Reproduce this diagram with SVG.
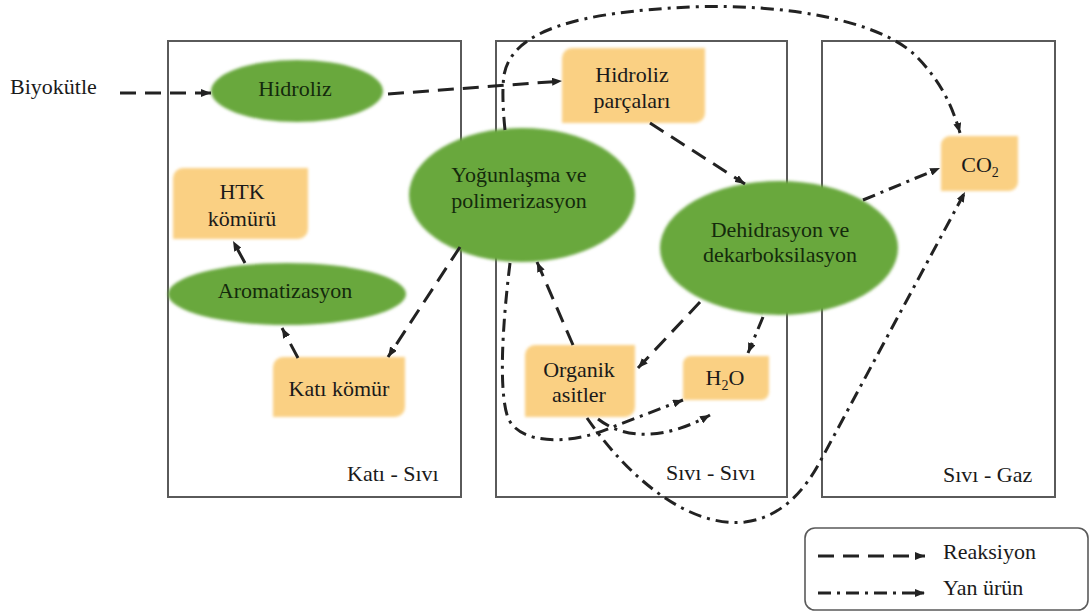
<svg xmlns="http://www.w3.org/2000/svg" width="1089" height="612" viewBox="0 0 1089 612">
  <defs>
    <style>
      text { font-family: "Times New Roman", Times, "Liberation Serif", "DejaVu Serif", serif; font-size: 22px; fill: #1a1a1a; }
      .mid { text-anchor: middle; }
      .proc text { fill: #142a0c; }
      .panel { fill: none; stroke: #5a5a5a; stroke-width: 2; }
      .ell { fill: #69a83c; filter: url(#soft); }
      .box { fill: #fad083; filter: url(#soft); }
      .rx { fill: none; stroke: #222; stroke-width: 3; stroke-dasharray: 16 9; marker-end: url(#ah); }
      .yu { fill: none; stroke: #222; stroke-width: 3; stroke-dasharray: 13 6 3 6; marker-end: url(#ah); }
      .legend { fill: #fff; stroke: #5a5a5a; stroke-width: 1.6; }
    </style>
    <filter id="soft" x="-10%" y="-10%" width="120%" height="120%">
      <feGaussianBlur stdDeviation="1.4"/>
    </filter>
    <marker id="ah" viewBox="0 0 10 8" refX="10" refY="4" markerWidth="10" markerHeight="8" markerUnits="userSpaceOnUse" orient="auto">
      <path d="M0,0 L10,4 L0,8 z" fill="#222"/>
    </marker>
  </defs>

  <rect width="1089" height="612" fill="#ffffff"/>

  <!-- phase panels -->
  <g id="panels">
    <rect class="panel" x="168" y="41" width="293" height="456"/>
    <rect class="panel" x="496" y="41" width="291" height="456"/>
    <rect class="panel" x="822" y="41" width="233" height="456"/>
    <text x="347" y="481">Katı - Sıvı</text>
    <text x="666" y="480">Sıvı - Sıvı</text>
    <text x="943" y="482">Sıvı - Gaz</text>
  </g>

  <g id="biyokutle">
    <text x="10" y="94">Biyokütle</text>
  </g>

  <!-- process steps -->
  <g id="hidroliz" class="proc">
    <ellipse class="ell" cx="297" cy="91" rx="86" ry="31"/>
    <text class="mid" x="295" y="96">Hidroliz</text>
  </g>
  <g id="aromatizasyon" class="proc">
    <ellipse class="ell" cx="287" cy="294" rx="119" ry="31"/>
    <text class="mid" x="285" y="298">Aromatizasyon</text>
  </g>
  <g id="yogunlasma" class="proc">
    <ellipse class="ell" cx="522" cy="195" rx="113" ry="67"/>
    <text class="mid" x="519" y="182">Yoğunlaşma ve</text>
    <text class="mid" x="519" y="208">polimerizasyon</text>
  </g>
  <g id="dehidrasyon" class="proc">
    <ellipse class="ell" cx="779" cy="248" rx="119" ry="67"/>
    <text class="mid" x="780" y="237">Dehidrasyon ve</text>
    <text class="mid" x="780" y="262">dekarboksilasyon</text>
  </g>

  <!-- products -->
  <g id="htk-komuru">
    <path class="box" d="M183,168 H308 V229 A10,10 0 0 1 298,239 H173 V178 A10,10 0 0 1 183,168 Z"/>
    <text class="mid" x="242" y="199">HTK</text>
    <text class="mid" x="242" y="226">kömürü</text>
  </g>
  <g id="kati-komur">
    <path class="box" d="M283,357 H405 V407 A10,10 0 0 1 395,417 H273 V367 A10,10 0 0 1 283,357 Z"/>
    <text class="mid" x="339" y="396">Katı kömür</text>
  </g>
  <g id="hidroliz-parcalari">
    <path class="box" d="M572,48 H705 V113 A10,10 0 0 1 695,123 H562 V58 A10,10 0 0 1 572,48 Z"/>
    <text class="mid" x="632" y="82">Hidroliz</text>
    <text class="mid" x="632" y="108">parçaları</text>
  </g>
  <g id="organik-asitler">
    <path class="box" d="M535,345 H635 V407 A10,10 0 0 1 625,417 H525 V355 A10,10 0 0 1 535,345 Z"/>
    <text class="mid" x="579" y="377">Organik</text>
    <text class="mid" x="579" y="402">asitler</text>
  </g>
  <g id="h2o">
    <path class="box" d="M691,356 H769 V392 A8,8 0 0 1 761,400 H683 V364 A8,8 0 0 1 691,356 Z"/>
    <text class="mid" x="725" y="385">H<tspan font-size="14" dy="5">2</tspan><tspan dy="-5">O</tspan></text>
  </g>
  <g id="co2">
    <path class="box" d="M950,136 H1018 V182 A9,9 0 0 1 1009,191 H941 V145 A9,9 0 0 1 950,136 Z"/>
    <text class="mid" x="980" y="172">CO<tspan font-size="14" dy="5">2</tspan></text>
  </g>

  <!-- connectors -->
  <g id="connectors">
    <!-- reactions -->
    <path class="rx" d="M120,93 L211,93"/>
    <path class="rx" d="M388,94 L562,81"/>
    <path class="rx" d="M650,123 L745,184"/>
    <path class="rx" d="M700,302 L638,368"/>
    <path class="rx" d="M573,345 L537,262"/>
    <path class="rx" d="M460,247 L388,357"/>
    <path class="rx" d="M298,358 L282,328"/>
    <path class="rx" d="M245,263 L233,241"/>
    <!-- by-products -->
    <path class="yu" d="M505,130 C503,110 502,90 504,75 C512,30 580,12 690,7 C790,3 880,22 915,55 C940,80 952,105 960,133"/>
    <path class="yu" d="M510,263 C503,320 498,390 508,418 C520,445 570,445 610,428 L683,400"/>
    <path class="yu" d="M598,419 C625,440 665,440 710,415"/>
    <path class="yu" d="M587,418 C630,480 690,528 745,522 C785,517 808,485 822,458 L965,192"/>
    <path class="yu" d="M763,317 L748,353"/>
    <path class="yu" d="M863,200 L940,168"/>
  </g>

  <!-- legend -->
  <g id="legend">
    <rect class="legend" x="805" y="528" width="283" height="82" rx="10"/>
    <path class="rx" d="M818,556 L925,556"/>
    <path class="yu" d="M818,593 L925,593"/>
    <text x="943" y="559">Reaksiyon</text>
    <text x="943" y="595">Yan ürün</text>
  </g>
</svg>
